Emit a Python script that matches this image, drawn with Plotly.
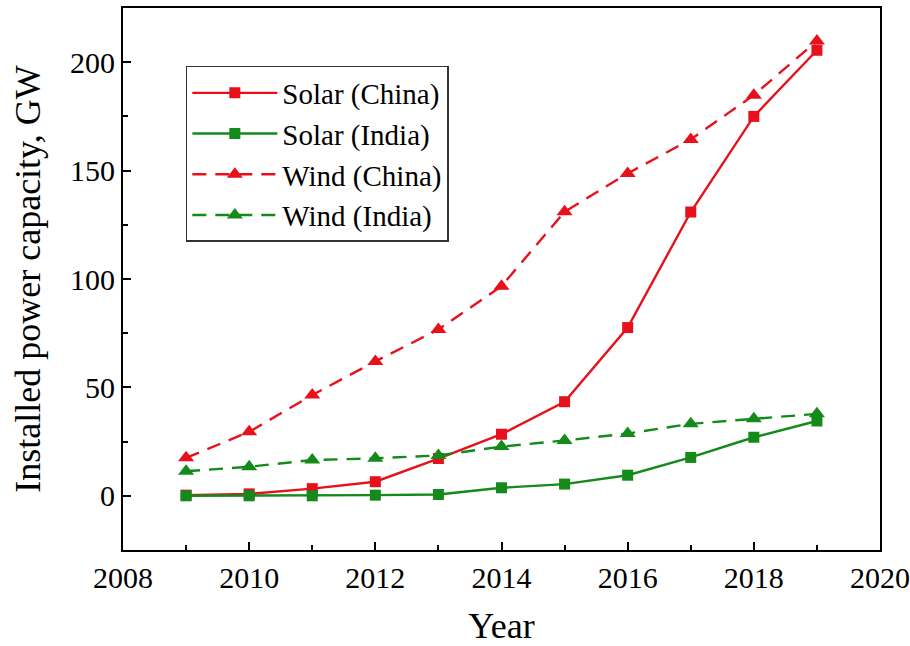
import plotly.graph_objects as go

years = [2009, 2010, 2011, 2012, 2013, 2014, 2015, 2016, 2017, 2018, 2019]
solar_china = [0.3, 0.9, 3.3, 6.5, 17.2, 28.4, 43.4, 77.6, 130.9, 175.0, 205.5]
solar_india = [0.0, 0.0, 0.0, 0.3, 0.6, 3.7, 5.4, 9.5, 17.7, 27.0, 34.5]
wind_china = [17.5, 29.5, 46.5, 62.0, 76.7, 96.7, 131.0, 148.7, 164.4, 184.8, 209.8]
wind_india = [11.3, 13.4, 16.5, 17.3, 18.6, 22.7, 25.5, 28.7, 33.2, 35.5, 37.8]

RED = "#e8101a"
GREEN = "#138a1a"
FONT = "Liberation Serif, Times New Roman, serif"
DASH = "14px,9px"

fig = go.Figure()
series = [
    ("Solar (China)", solar_china, RED, "solid", "square", 11),
    ("Solar (India)", solar_india, GREEN, "solid", "square", 11),
    ("Wind (China)", wind_china, RED, DASH, "triangle-up", 14),
    ("Wind (India)", wind_india, GREEN, DASH, "triangle-up", 14),
]
for name, vals, color, dash, symbol, size in series:
    fig.add_trace(go.Scatter(
        x=years, y=vals, name=name, mode="lines+markers",
        line=dict(color=color, width=2.4, dash=dash),
        marker=dict(color=color, symbol=symbol, size=size),
    ))

fig.update_xaxes(
    range=[2008, 2020], dtick=2, tick0=2008, automargin=False,
    showline=True, linecolor="black", linewidth=2, mirror=True,
    ticks="inside", ticklen=8, tickwidth=2, tickcolor="black",
    showgrid=False, zeroline=False,
    tickfont=dict(family=FONT, size=30, color="black"),
    minor=dict(ticks="inside", ticklen=5, tickwidth=2, tickcolor="black", dtick=1),
    title=dict(text="Year", font=dict(family=FONT, size=36, color="black"), standoff=24),
)
fig.update_yaxes(
    range=[-25, 225], dtick=50, tick0=0, automargin=False,
    showline=True, linecolor="black", linewidth=2, mirror=True,
    ticks="inside", ticklen=8, tickwidth=2, tickcolor="black",
    showgrid=False, zeroline=False,
    tickfont=dict(family=FONT, size=30, color="black"),
    minor=dict(ticks="inside", ticklen=5, tickwidth=2, tickcolor="black", dtick=25),
    title=dict(text="Installed power capacity, GW",
               font=dict(family=FONT, size=36, color="black"), standoff=18),
)

fig.update_layout(
    width=910, height=646,
    margin=dict(l=123, r=30, t=8, b=96),
    plot_bgcolor="white", paper_bgcolor="white",
    font=dict(family=FONT, color="black"),
    legend=dict(
        x=0.083, y=0.893, xanchor="left", yanchor="top",
        bgcolor="white", bordercolor="#333333", borderwidth=1.5,
        font=dict(family=FONT, size=29, color="black"),
        itemwidth=85, tracegroupgap=0,
    ),
    showlegend=True,
)

fig.write_html("out.html")
